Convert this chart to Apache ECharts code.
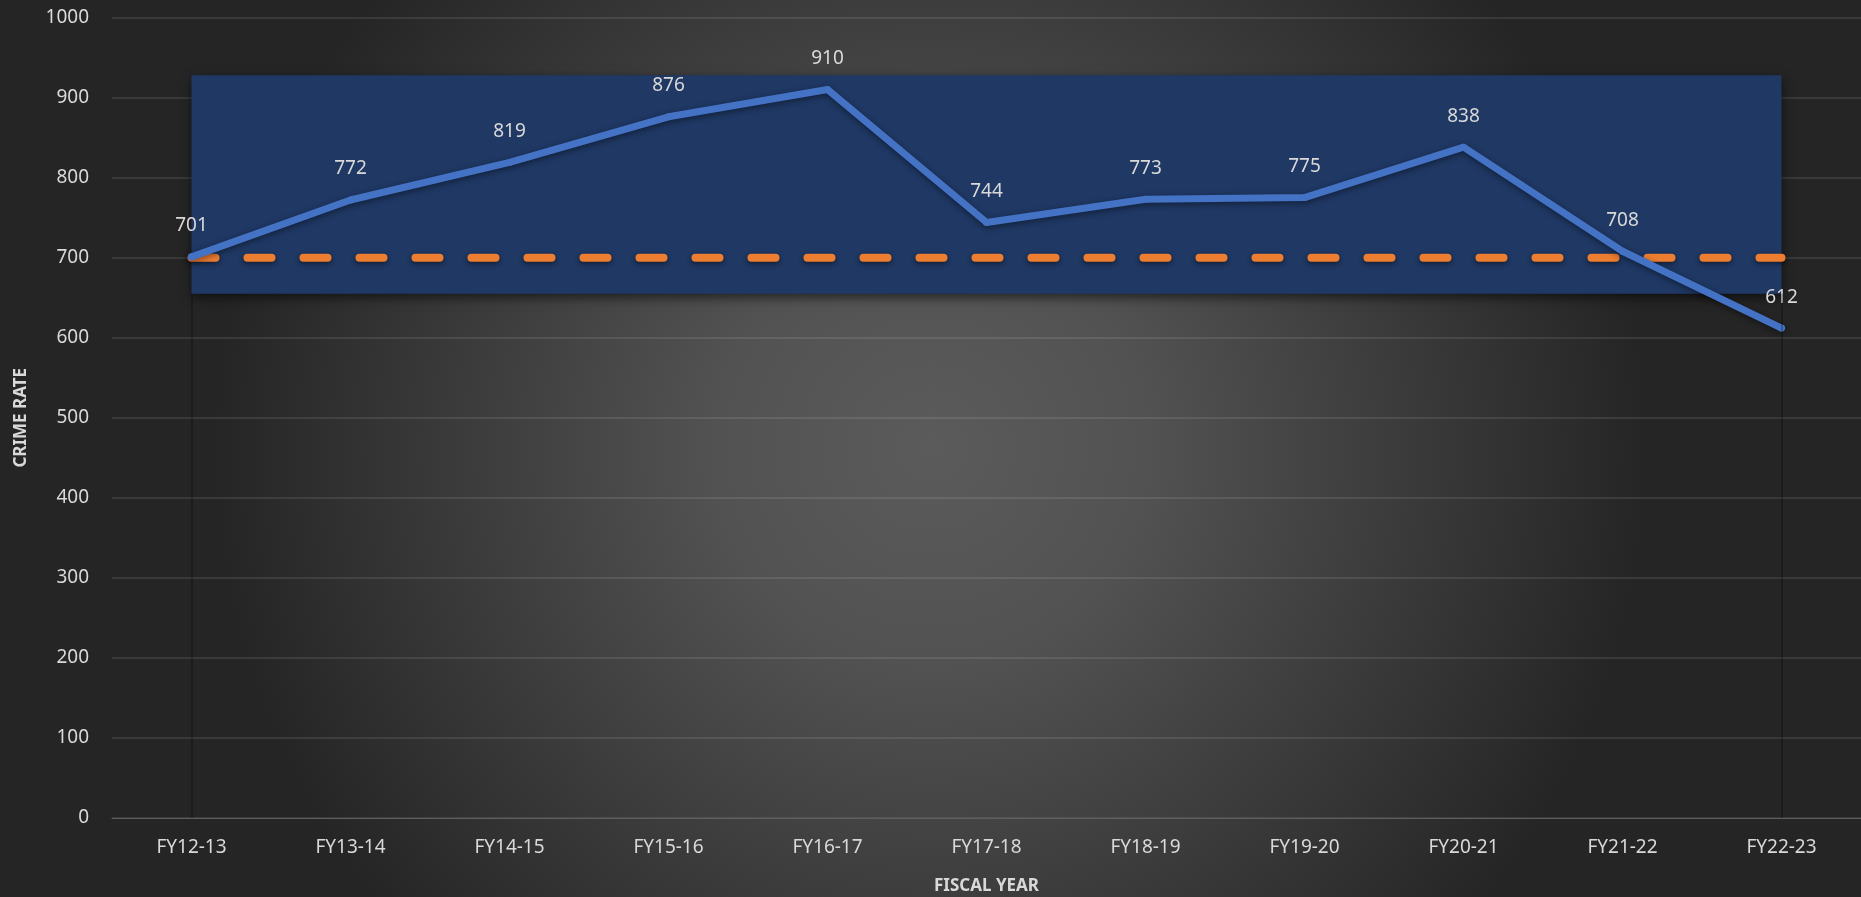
<!DOCTYPE html>
<html>
<head>
<meta charset="utf-8">
<title>Crime rate by fiscal year</title>
<script src="https://cdn.jsdelivr.net/npm/echarts@6/dist/echarts.min.js"></script>
<style>
html, body { margin: 0; padding: 0; background: #2b2b2b; }
#chart { width: 1861px; height: 897px; }
</style>
</head>
<body>
<div id="chart"></div>
<script>
// data
var years = ['FY12-13', 'FY13-14', 'FY14-15', 'FY15-16', 'FY16-17', 'FY17-18',
             'FY18-19', 'FY19-20', 'FY20-21', 'FY21-22', 'FY22-23'];
var crimeRate = [701, 772, 819, 876, 910, 744, 773, 775, 838, 708, 612];
var target = [700, 700, 700, 700, 700, 700, 700, 700, 700, 700, 700];
var bandLow = 655;
var bandHigh = 928;
var yTicks = [0, 100, 200, 300, 400, 500, 600, 700, 800, 900, 1000];

var txt = '#d9d9d9';
var font = 'Noto Sans';

var myChart = echarts.init(document.getElementById('chart'));

var option = {
    backgroundColor: {
        type: 'radial', x: 0.5, y: 0.5, r: 0.8,
        colorStops: [
            { offset: 0, color: '#5b5b5b' },
            { offset: 0.3, color: '#525252' },
            { offset: 1, color: '#252525' }
        ]
    },
    textStyle: { fontFamily: font },
    grid: {
        left: 112,
        right: 0,
        top: 17.5,
        bottom: 79,
        outerBoundsMode: 'none'
    },
    xAxis: {
        type: 'category',
        data: years,
        boundaryGap: true,
        name: 'FISCAL YEAR',
        nameLocation: 'middle',
        nameGap: 60,
        nameTextStyle: { color: txt, fontSize: 17, fontWeight: 'bold', fontFamily: font },
        axisLine: { lineStyle: { color: '#5e5e5e', width: 1 } },
        axisTick: { show: false },
        axisLabel: { color: txt, fontSize: 19, margin: 20, fontFamily: font }
    },
    yAxis: {
        type: 'value',
        min: yTicks[0],
        max: yTicks[yTicks.length - 1],
        interval: yTicks[1] - yTicks[0],
        name: 'CRIME RATE',
        nameLocation: 'middle',
        nameRotate: 90,
        nameGap: 82,
        nameTextStyle: { color: txt, fontSize: 17, fontWeight: 'bold', fontFamily: font },
        axisLine: { show: false },
        axisTick: { show: false },
        axisLabel: {
            color: txt, fontSize: 19, margin: 23, fontFamily: font,
            formatter: function (v) { return String(v); }
        },
        splitLine: { lineStyle: { color: 'rgba(255,255,255,0.13)', width: 1.5 } }
    },
    series: [
        {
            name: 'Target',
            type: 'line',
            data: target,
            symbol: 'none',
            z: 3,
            lineStyle: {
                color: '#ed7d31',
                width: 8,
                type: [24, 32],
                cap: 'round',
                shadowColor: 'rgba(0,0,0,0.5)',
                shadowBlur: 5,
                shadowOffsetY: 2
            },
            markArea: {
                silent: true,
                itemStyle: {
                    color: '#1f3864',
                    shadowColor: 'rgba(0,0,0,0.55)',
                    shadowBlur: 10,
                    shadowOffsetY: 4
                },
                data: [[
                    { xAxis: years[0], yAxis: bandLow },
                    { xAxis: years[years.length - 1], yAxis: bandHigh }
                ]]
            },
            markLine: {
                silent: true,
                symbol: 'none',
                label: { show: false },
                lineStyle: { color: 'rgba(0,0,0,0.3)', type: 'solid', width: 1.5 },
                data: [
                    [{ coord: [years[0], 0] }, { coord: [years[0], bandLow] }],
                    [{ coord: [years[years.length - 1], 0] }, { coord: [years[years.length - 1], bandLow] }]
                ]
            }
        },
        {
            name: 'Crime Rate',
            type: 'line',
            data: crimeRate,
            z: 4,
            symbol: 'circle',
            symbolSize: 7,
            itemStyle: { color: '#4472c4' },
            lineStyle: {
                color: '#4472c4',
                width: 7,
                join: 'round',
                cap: 'round',
                shadowColor: 'rgba(0,0,0,0.45)',
                shadowBlur: 6,
                shadowOffsetY: 2
            },
            label: {
                show: true,
                position: 'top',
                distance: 18,
                color: txt,
                fontSize: 19,
                fontFamily: font
            }
        }
    ]
};

myChart.setOption(option);
</script>
</body>
</html>
